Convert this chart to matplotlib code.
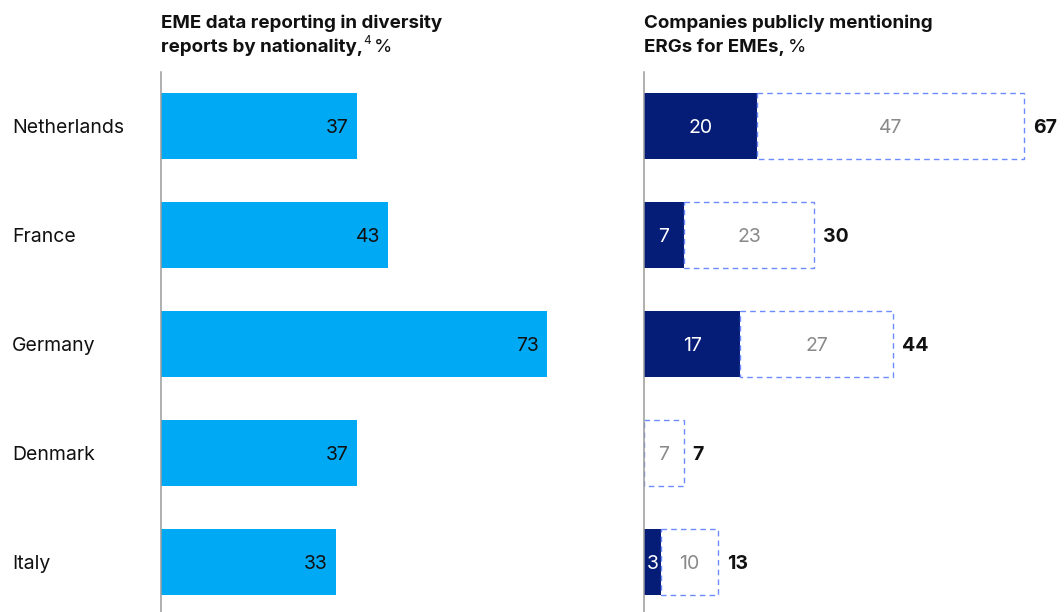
import matplotlib
matplotlib.use("Agg")
import matplotlib.pyplot as plt

plt.rcParams['font.family'] = ['Inter', 'DejaVu Sans']

countries = ["Netherlands", "France", "Germany", "Denmark", "Italy"]
eme_reporting = [37, 43, 73, 37, 33]
erg_mentioned = [20, 7, 17, 0, 3]
erg_other = [47, 23, 27, 7, 10]
erg_total = [67, 30, 44, 7, 13]

W, H = 1064, 612
fig = plt.figure(figsize=(W / 100, H / 100), dpi=100)

LIGHT_BLUE = "#00a9f4"
NAVY = "#061d78"
DASH = "#6b8bff"
AXIS = "#9a9a9a"
TEXT = "#111111"
FS = 14

def px_axes(x0, y_top, w, h):
    return fig.add_axes([x0 / W, 1 - (y_top + h) / H, w / W, h / H])

y_top, y_bot = 72, 612
ah = y_bot - y_top
row = 109
ylim = (4 + 50 / row, -54 / row)
bar_h = 66 / row
ypos = list(range(len(countries)))

# Left panel
axL = px_axes(161, y_top, 400, ah)
axL.set_xlim(0, 400 / 5.29)
axL.set_ylim(*ylim)
axL.barh(ypos, eme_reporting, height=bar_h, color=LIGHT_BLUE, left=0)
for y, v in zip(ypos, eme_reporting):
    axL.annotate(f"{v}", xy=(v, y), xytext=(-8, 0), textcoords="offset pixels",
                 ha="right", va="center_baseline", fontsize=FS, color=TEXT)

# Right panel
axR = px_axes(644, y_top, 420, ah)
axR.set_xlim(0, 420 / 5.67)
axR.set_ylim(*ylim)
axR.barh(ypos, erg_mentioned, height=bar_h, color=NAVY)
axR.barh(ypos, erg_other, left=erg_mentioned, height=bar_h, facecolor="none",
         edgecolor=DASH, linewidth=1.0, linestyle=(0, (4, 3)))
for y, a, b, t in zip(ypos, erg_mentioned, erg_other, erg_total):
    if a > 0:
        axR.text(a / 2, y, f"{a}", ha="center", va="center_baseline", fontsize=FS, color="white")
    axR.text(a + b / 2, y, f"{b}", ha="center", va="center_baseline", fontsize=FS, color="#8a8a8a")
    axR.annotate(f"{t}", xy=(t, y), xytext=(9, 0), textcoords="offset pixels",
                 ha="left", va="center_baseline", fontsize=FS, color=TEXT, fontweight="bold")

for ax in (axL, axR):
    for s in ("top", "right", "bottom"):
        ax.spines[s].set_visible(False)
    ax.spines["left"].set_color(AXIS)
    ax.spines["left"].set_linewidth(1.1)
    ax.set_xticks([])
    ax.set_yticks([])
    ax.patch.set_alpha(0)

# Country labels
for y, c in zip(ypos, countries):
    axL.annotate(c, xy=(0, y), xycoords=("figure pixels", "data"), xytext=(12, 0),
                 textcoords="offset pixels", ha="left", va="center_baseline",
                 fontsize=FS, color=TEXT)

# Titles
TFS = 13.5
renderer = fig.canvas.get_renderer()

def title(x, lines, tail, sup=None):
    fig.text(x / W, 1 - 28 / H, lines[0], fontsize=TFS, fontweight="bold",
             color=TEXT, ha="left", va="baseline")
    t2 = fig.text(x / W, 1 - 52 / H, lines[1], fontsize=TFS, fontweight="bold",
                  color=TEXT, ha="left", va="baseline")
    x_end = t2.get_window_extent(renderer).x1
    if sup:
        s = fig.text((x_end + 0.5) / W, 1 - 44 / H, sup, fontsize=8.5, color=TEXT,
                     ha="left", va="baseline")
        x_end = s.get_window_extent(renderer).x1
    fig.text((x_end + 3) / W, 1 - 52 / H, tail, fontsize=TFS, color=TEXT,
             ha="left", va="baseline")

title(161, ["EME data reporting in diversity", "reports by nationality,"], "%", sup="4")
title(644, ["Companies publicly mentioning", "ERGs for EMEs,"], "%")

fig.savefig("out.png", dpi=100)
